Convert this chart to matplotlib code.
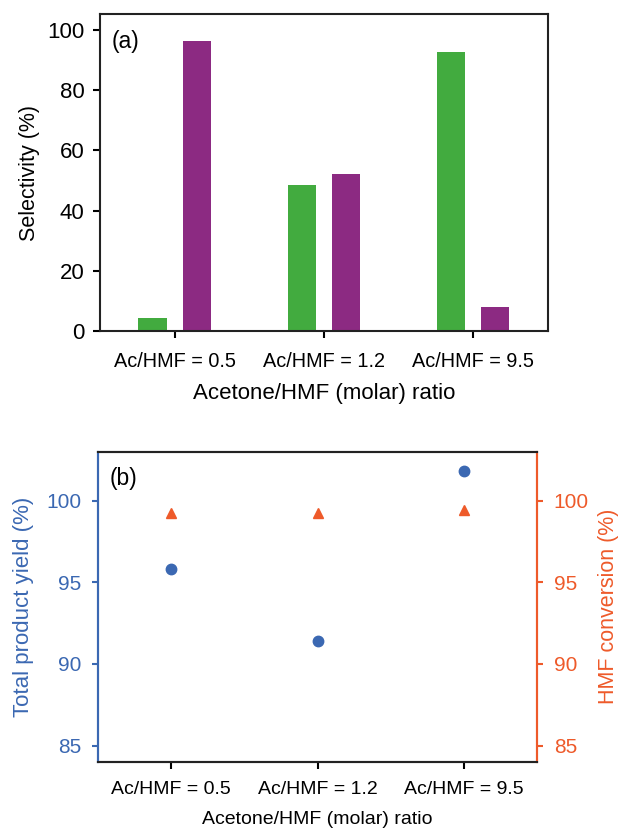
import numpy as np
import matplotlib
matplotlib.use("Agg")
import matplotlib.pyplot as plt

plt.rcParams['font.family'] = ['Liberation Sans', 'DejaVu Sans']

# data
ratios = ["Ac/HMF = 0.5", "Ac/HMF = 1.2", "Ac/HMF = 9.5"]
sel_green = [4.4, 48.5, 92.7]
sel_purple = [96.4, 52.3, 8.1]
total_yield = [95.8, 91.4, 101.8]
hmf_conversion = [99.25, 99.25, 99.45]

GREEN = "#42ab3f"
PURPLE = "#8c2a82"
BLUE = "#3b68b2"
ORANGE = "#ee5a2a"
DARK = "#222222"

fig = plt.figure(figsize=(6.21, 8.3), dpi=100)

# (a) selectivity bars
ax1 = fig.add_axes([0.161, 0.601, 0.721, 0.382])
x = np.arange(len(ratios))
w = 0.19
ax1.bar(x - 0.148, sel_green, width=w, color=GREEN)
ax1.bar(x + 0.148, sel_purple, width=w, color=PURPLE)
ax1.set_xlim(-0.5, 2.5)
ax1.set_ylim(0, 105.2)
ax1.set_yticks([0, 20, 40, 60, 80, 100])
ax1.set_xticks(x)
ax1.set_xticklabels(ratios, fontsize=14.3)
ax1.tick_params(axis='y', labelsize=16, length=5, width=1.5, direction='out', pad=6)
ax1.tick_params(axis='x', length=5, width=1.5, direction='out', pad=10)
ax1.set_ylabel("Selectivity (%)", fontsize=15.5)
ax1.set_xlabel("Acetone/HMF (molar) ratio", fontsize=16)
ax1.yaxis.set_label_coords(-0.135, 0.5)
ax1.xaxis.set_label_coords(0.5, -0.165)
for s in ax1.spines.values():
    s.set_linewidth(1.5)
    s.set_color(DARK)
ax1.text(0.027, 0.95, "(a)", transform=ax1.transAxes, fontsize=16.5, va='top', ha='left')

# (b) yield and conversion
ax2 = fig.add_axes([0.158, 0.082, 0.707, 0.374])
ax3 = ax2.twinx()
ax2.plot(x, total_yield, 'o', color=BLUE, markersize=7.5)
ax3.plot(x, hmf_conversion, '^', color=ORANGE, markersize=7)
ax2.set_xlim(-0.5, 2.5)
for a in (ax2, ax3):
    a.set_ylim(84, 103)
    a.set_yticks([85, 90, 95, 100])
ax2.set_xticks(x)
ax2.set_xticklabels(ratios, fontsize=14)
ax2.tick_params(axis='x', length=5, width=1.5, direction='out', pad=9)
ax2.tick_params(axis='y', labelsize=15, length=4, width=1.5, pad=8,
                color=BLUE, labelcolor=BLUE)
ax3.tick_params(axis='y', labelsize=15, length=4, width=1.5, pad=8,
                color=ORANGE, labelcolor=ORANGE)
ax2.set_ylabel("Total product yield (%)", fontsize=16, color=BLUE)
ax3.set_ylabel("HMF conversion (%)", fontsize=15.5, color=ORANGE)
ax2.set_xlabel("Acetone/HMF (molar) ratio", fontsize=14)
ax2.yaxis.set_label_coords(-0.145, 0.5)
ax3.yaxis.set_label_coords(1.138, 0.5)
ax2.xaxis.set_label_coords(0.5, -0.158)
for a in (ax2, ax3):
    for s in a.spines.values():
        s.set_linewidth(1.5)
        s.set_color(DARK)
    a.spines['left'].set_color(BLUE)
    a.spines['right'].set_color(ORANGE)
ax2.text(0.027, 0.95, "(b)", transform=ax2.transAxes, fontsize=16.5, va='top', ha='left')

fig.savefig("out.png", dpi=100)
